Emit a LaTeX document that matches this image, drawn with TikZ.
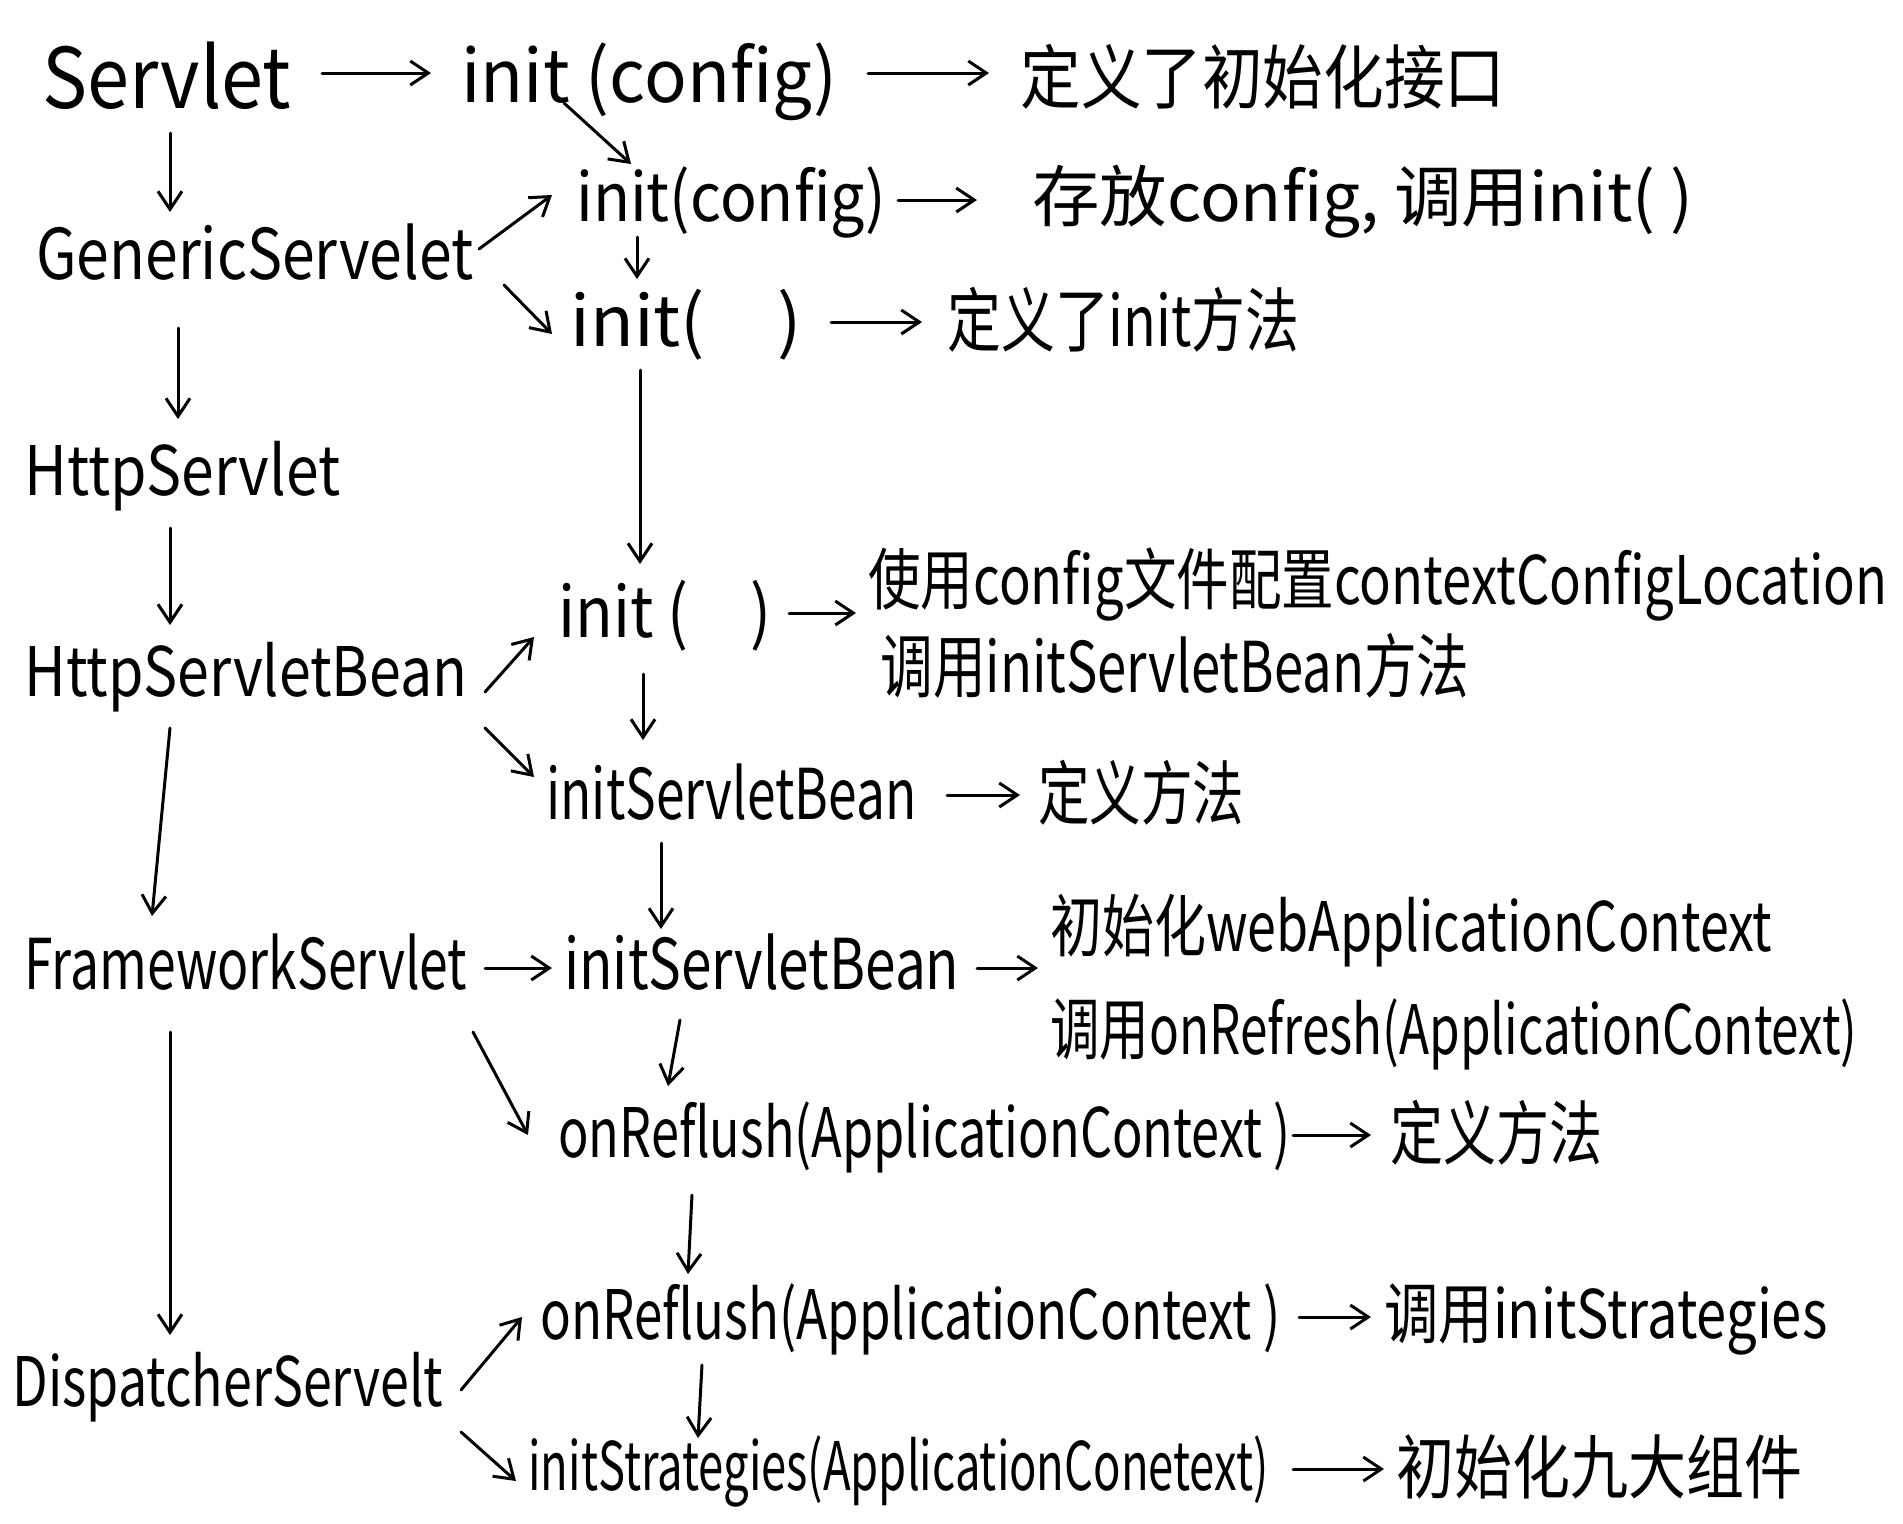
\documentclass[tikz,border=0pt]{standalone}
\usepackage{graphicx}
\usepackage{fontspec}
\setmainfont{Noto Sans CJK SC}
\usetikzlibrary{arrows.meta,calc}
\newlength\pxu \setlength\pxu{0.5pt}
\newcommand\hw[3][38.5pt]{\resizebox*{#2\pxu}{#1}{\fontsize{35}{40}\selectfont\vrule height 0.9em depth 0.2em width 0pt #3}}
\tikzset{
  txt/.style={inner sep=0pt, anchor=west},
  arr/.style={-{Straight Barb[length=9pt,width=12pt]}, line width=1.5pt, line cap=round, line join=round}
}
\begin{document}
\begin{tikzpicture}[x=0.5pt,y=-0.5pt]
\fill[white] (0,0) rectangle (1903,1523);
\useasboundingbox (0,0) rectangle (1903,1523);
% left column
\node[txt] (n1) at (42,79) {\hw[46pt]{249}{Servlet}};
\node[txt] (g1) at (36,255) {\hw{437}{GenericServelet}};
\node[txt] (h1) at (24,473) {\hw{316}{HttpServlet}};
\node[txt] (h2) at (24,674) {\hw{443}{HttpServletBean}};
\node[txt] (f1) at (24,965) {\hw{443}{FrameworkServlet}};
\node[txt] (d1) at (12,1384) {\hw{431}{DispatcherServelt}};
% middle column
\node[txt] (n2) at (461,79) {\hw[42pt]{376}{init (config)}};
\node[txt] (n4) at (576,200) {\hw{310}{init(config)}};
\node[txt] (n6) at (570,322) {\hw{231}{init(\quad)}};
\node[txt] (n8) at (558,613) {\hw{213}{init (\quad)}};
\node[txt] (n11) at (546,795) {\hw{370}{initServletBean}};
\node[txt] (n13) at (564,965) {\hw{395}{initServletBean}};
\node[txt] (n16) at (558,1135) {\hw{732}{onReflush(ApplicationContext )}};
\node[txt] (n18) at (540,1317) {\hw{740}{onReflush(ApplicationContext )}};
\node[txt] (n20) at (528,1469) {\hw{740}{initStrategies(ApplicationConetext)}};
% right column
\node[txt] (n3) at (1020,79) {\hw{485}{定义了初始化接口}};
\node[txt] (n5) at (1032,200) {\hw{661}{存放config, 调用init( )}};
\node[txt] (n7) at (947,322) {\hw{352}{定义了init方法}};
\node[txt] (n9) at (868,583) {\hw{1019}{使用config文件配置contextConfigLocation}};
\node[txt] (n10) at (880,668) {\hw{589}{调用initServletBean方法}};
\node[txt] (n12) at (1038,795) {\hw{206}{定义方法}};
\node[txt] (n14) at (1050,929) {\hw{722}{初始化webApplicationContext}};
\node[txt] (n15) at (1050,1032) {\hw{807}{调用onRefresh(ApplicationContext)}};
\node[txt] (n17) at (1390,1135) {\hw{212}{定义方法}};
\node[txt] (n19) at (1384,1317) {\hw{443}{调用initStrategies}};
\node[txt] (n21) at (1396,1469) {\hw{406}{初始化九大组件}};
% horizontal arrows
\draw[arr] ($(n1.west)+(280,-6)$) -- ($(n2.west)+(-30,-6)$);
\draw[arr] ($(n2.west)+(407,-6)$) -- ($(n3.west)+(-31,-6)$);
\draw[arr] ($(n4.west)+(322,0)$) -- ($(n5.west)+(-55,0)$);
\draw[arr] ($(n6.west)+(261,0)$) -- ($(n7.west)+(-25,0)$);
\draw[arr] ($(n8.west)+(231,0)$) -- ($(n9.west)+(-12,30)$);
\draw[arr] ($(n11.west)+(401,0)$) -- ($(n12.west)+(-18,0)$);
\draw[arr] ($(f1.west)+(461,3)$) -- ($(n13.west)+(-12,3)$);
\draw[arr] ($(n13.west)+(413,3)$) -- ($(n14.west)+(-12,39)$);
\draw[arr] ($(n16.west)+(735,0)$) -- ($(n17.west)+(-19,0)$);
\draw[arr] ($(n18.west)+(759,0)$) -- ($(n19.west)+(-13,0)$);
\draw[arr] ($(n20.west)+(765,0)$) -- ($(n21.west)+(-12,0)$);
% left column vertical arrows
\draw[arr] ($(n1.west)+(128,54)$) -- ($(g1.west)+(134,-43)$);
\draw[arr] ($(g1.west)+(142,73)$) -- ($(h1.west)+(154,-54)$);
\draw[arr] ($(h1.west)+(146,55)$) -- ($(h2.west)+(146,-49)$);
\draw[arr] ($(h2.west)+(146,54)$) -- ($(f1.west)+(128,-49)$);
\draw[arr] ($(f1.west)+(146,67)$) -- ($(d1.west)+(158,-49)$);
% middle arrows
\draw[arr] ($(n2.west)+(103,24)$) -- ($(n4.west)+(55,-36)$);
\draw[arr] ($(n4.west)+(61,37)$) -- ($(n6.west)+(67,-43)$);
\draw[arr] ($(g1.west)+(443,-6)$) -- ($(n4.west)+(-24,-5)$);
\draw[arr] ($(g1.west)+(468,30)$) -- ($(n6.west)+(-18,12)$);
\draw[arr] ($(n6.west)+(70,48)$) -- ($(n8.west)+(82,-49)$);
\draw[arr] ($(h2.west)+(461,18)$) -- ($(n8.west)+(-24,24)$);
\draw[arr] ($(h2.west)+(461,54)$) -- ($(n11.west)+(-12,-18)$);
\draw[arr] ($(n8.west)+(85,61)$) -- ($(n11.west)+(97,-55)$);
\draw[arr] ($(n11.west)+(115,48)$) -- ($(n13.west)+(97,-36)$);
\draw[arr] ($(n13.west)+(116,55)$) -- ($(n16.west)+(110,-49)$);
\draw[arr] ($(f1.west)+(449,67)$) -- ($(n16.west)+(-30,0)$);
\draw[arr] ($(n16.west)+(134,60)$) -- ($(n18.west)+(148,-43)$);
\draw[arr] ($(d1.west)+(449,6)$) -- ($(n18.west)+(-18,0)$);
\draw[arr] ($(d1.west)+(449,48)$) -- ($(n20.west)+(-12,12)$);
\draw[arr] ($(n18.west)+(162,48)$) -- ($(n20.west)+(170,-31)$);
\end{tikzpicture}
\end{document}
